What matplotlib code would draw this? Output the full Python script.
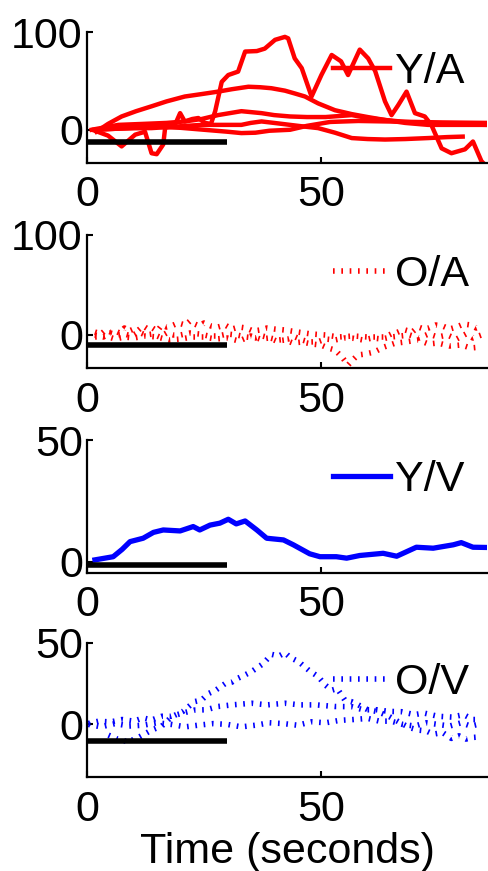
import matplotlib
matplotlib.use("Agg")
import matplotlib.pyplot as plt

plt.rcParams['font.family'] = ['Liberation Sans', 'DejaVu Sans']

# ---------------- data ----------------
x_ticks = [0, 50]
x_lim = (0, 85.5)
bar_t = [0, 30]

# Panel 1: Y/A (solid red traces)
ya_a_t = [1.7, 4.5, 7.4, 10.3, 12.4, 13.8, 14.9, 16.3, 16.7, 18.8, 19.9, 20.9, 22.5, 23.8, 25.2, 26.5,
          27.4, 28.8, 30.2, 32.3, 33.8, 36.3, 38.0, 40.2, 42.3, 43.0, 44.4, 45.9, 48.0, 50.1, 52.3,
          54.3, 55.8, 58.3, 60.1, 61.6, 63.7, 65.1, 66.5, 68.3, 70.1, 72.2, 73.6, 75.8, 77.9, 80.8,
          82.5, 84.3, 85.5]
ya_a_v = [-1, -6, -17, -5, -2, -24, -25, -15, 2, 5, 17, 8.5, 11, 12, 7, 6,
          19, 49, 56, 59.5, 80, 80.5, 83, 92, 95, 93.5, 73, 63, 34, 56, 76.5,
          70, 56, 82, 73, 60, 29, 15, 25, 39, 17, 13.6, 5, -19, -24, -20,
          -12, -32, -38]
ya_b_t = [2, 4.5, 7.4, 10.5, 13.8, 17, 20.9, 24.5, 28, 31, 34.5, 37, 39.4, 42.3, 44.5, 46.6, 49.4,
          53, 56.6, 60, 63.7, 68, 72, 76, 80, 85.5]
ya_b_v = [-2, 6, 13.6, 19, 24, 29, 34, 36.5, 39, 41.5, 44, 43.5, 42.5, 40, 37, 34, 27,
          20, 16, 13, 10, 8, 7, 6, 5.5, 5]
ya_c_t = [1, 6.7, 12, 17, 20.9, 24.5, 28, 30.5, 33, 37.3, 40, 43.4, 47, 51, 56.6, 60, 63.7, 68,
          72.9, 78, 85.5]
ya_c_v = [0, 5, 6, 7, 8.5, 11, 15, 17, 19, 17, 15, 13.6, 13, 13, 15, 12, 10, 7,
          5, 5, 5]
ya_d_t = [1.5, 6, 10, 13.8, 18, 24.5, 29, 33, 35, 37.3, 40, 43.4, 46, 49.4, 53, 56.6, 60, 63.7,
          68, 72.9, 77, 80.3]
ya_d_v = [0, 1, 1.5, 1.7, 3, 5, 5, 5, 7, 8.5, 7, 5, 3.5, 1.7, -3, -8.5, -9.5, -10,
          -9.5, -8.5, -7.5, -7]
ya_e_t = [2, 6, 10, 15, 20, 25, 30, 33, 36, 39, 43.4, 47, 52, 58, 64, 70, 76, 85.5]
ya_e_v = [0, 1, 2, 3, 2, 0, -2, -3.4, -3, -1, 0, 4, 8, 9, 8.5, 8, 7.5, 7]

# Panel 2: O/A (dotted red traces)
oa_1_t = [1.7, 3, 4, 5, 6, 7, 8, 9, 10, 11, 12, 13, 14, 15, 16, 17, 18, 19.5, 21, 22, 23, 24, 25,
          26.5, 28, 29.5, 31, 32.5, 34, 35.5, 37, 38.5, 40, 42.3, 45, 48, 51, 53.7, 57, 60, 63.7,
          65, 66, 67, 68, 69.5, 70.8, 72, 73, 74.5, 76, 77.5, 79, 80.5, 82, 83.2, 84.3]
oa_1_v = [3, 1, 5, 3, 4, 2, 7, 4, 6, 5, 9, 6, 7, 4, 10, 8, 9, 12, 10, 14, 11, 9, 12,
          9, 8, 10, 6, 8, 7, 4, 5, 7, 6, 5, 3, 1, 0, -2, -1, -2, -2,
          1, 2, 4, 5, 3, 8, 6, 7, 10, 9, 6, 8, 11, 10, 7, 9]
oa_2_t = [1.7, 3.5, 5, 6.5, 8, 9.5, 11, 12.5, 14, 15.5, 17, 18.5, 20, 22, 24, 26, 28, 30, 32, 34,
          36, 37.5, 39.4, 41, 43, 44.5, 46, 47.5, 49.4, 51, 53, 55, 57, 59, 61, 63, 65, 67, 69, 71,
          73, 75, 77, 79, 81, 82.5, 84.3]
oa_2_v = [0, -2, 2, 0, 1, -1, 3, 0, 1, -2, 2, 0, 0, 2, 1, -1, -1, 1, 0, -2,
          -3, -1, -3.3, -5, -4, -2, -5, -7, -6.7, -4, -5, -3, -3.3, -5, -3, -4, -2, -1, 0, -3,
          1, -2, 0, -4, 1, -3, 0]
oa_3_t = [1.7, 4, 6, 8, 10, 12.5, 15, 17.5, 20, 22.5, 25, 27.5, 30, 32.5, 35, 37, 39, 40.5, 42.3,
          44, 46, 48, 50, 51.5, 53, 54.5, 55.8, 57, 57.9, 59.5, 61.4, 63.5, 65.8, 68, 70.8, 73,
          75, 77.5, 80, 82, 84.3]
oa_3_v = [-2, -1, -4, -2, -3, -1, -2, -5, -4, -2, -2, -4, -3, -6, -1, -4, -3, -6, -5,
          -8, -7, -9, -10, -13, -15, -22, -30, -24, -20, -19, -17, -12, -8.3, -7, -5, -9,
          -8, -11, -10, -13, -12]

# Panel 3: Y/V (solid blue trace)
yv_t = [1.7, 5.6, 7.5, 9.2, 12.0, 14.2, 16.3, 19.9, 22.7, 24.1, 26.3, 28.4, 30.2, 31.9, 33.8,
        36.3, 38.4, 42.0, 44.1, 47.6, 49.8, 53.3, 55.5, 58.3, 63.3, 66.2, 70.4, 74.0, 78.3, 80.0,
        82.5, 85.5]
yv_v = [0.7, 2.0, 5.0, 8.2, 9.6, 12.0, 13.0, 12.6, 14.4, 13.0, 15.0, 15.8, 17.4, 15.5, 16.7,
        13.0, 9.6, 8.9, 6.9, 3.2, 2.0, 2.0, 1.4, 2.5, 3.4, 2.2, 5.9, 5.5, 6.9, 7.8,
        5.9, 5.8]

# Panel 4: O/V (dotted blue traces)
ov_p_t = [4.6, 6.5, 8.8, 11, 13.8, 16, 18.1, 20.5, 23.0, 24.5, 26, 27.5, 29.5, 31, 32, 33.5, 35.2,
          37.5, 39.5, 41, 42.3, 43.5, 45.2, 47.5, 49.4, 51, 52.3, 53.5, 55.1, 56.5, 58.0, 60, 62.2,
          64.5, 67.2, 69, 70.8, 72.5, 74, 76, 77.9, 79.5, 81, 82.5, 84.3]
ov_p_v = [-6.6, -9, -10.7, -8, -3.5, -1, 4.7, 8, 14, 15, 19, 21, 25, 26, 28, 30, 32.5,
          37, 43, 42, 44, 41, 38.6, 33, 29.4, 24, 21, 22, 15, 14, 12, 9, 7.8,
          5, 0.6, -2, -3.5, -4, -6, -5, -8.6, -7, -9, -8, -7.6]
ov_q_t = [0.3, 2.5, 5, 7.5, 10, 12, 13.8, 16, 18, 20.5, 23.0, 25.5, 28, 31, 35.2, 38.5, 42.3, 45.5,
          49, 53, 56.6, 59, 62, 64.5, 67.2, 70, 72, 75, 78, 80.5, 82.5, 84.3]
ov_q_v = [0.6, 2, 1.5, 3, 2, 4, 2.7, 5, 5, 7, 8.8, 9, 11, 12, 13, 12, 13, 12,
          12, 11, 10.9, 9, 9, 8, 7.8, 6, 7, 5, 4.5, 6, 3, 3]
ov_r_t = [0.3, 3, 6, 9, 12, 15, 18, 21, 24, 27, 30, 33, 36, 39, 42, 45, 48, 51, 54, 57, 60, 62.5,
          65, 67.5, 70, 72.5, 75, 77.5, 80, 82, 84.3]
ov_r_v = [0, -1.5, 0.5, -1, -0.5, 1, 0, -1.5, -0.4, 0.5, 0, -1.5, -0.5, 1, 0.5, -0.5, 1.6, 1, 2.5,
          3, 3.7, 2, 2, 0, -1, 1, 0, -1, 1, -1, 0.5]

panel_labels = ['Y/A', 'O/A', 'Y/V', 'O/V']
y_ticks = [[0, 100], [0, 100], [0, 50], [0, 50]]
y_lims = [(-34, 100), (-33, 100), (-4.7, 50), (-32.3, 50)]
bar_levels = [-12.5, -10, -1.4, -10]
xlabel = 'Time (seconds)'

# ---------------- figure ----------------
W, H = 488, 871
fig = plt.figure(figsize=(W / 100, H / 100), dpi=100)

boxes_px = [(32, 163), (235, 368), (440, 573), (643, 777)]
left_px, right_px = 87, 487
FS = 31
LW = 3.2

axes = []
for (top, bot) in boxes_px:
    ax = fig.add_axes([left_px / W, 1 - bot / H, (right_px - left_px) / W, (bot - top) / H])
    axes.append(ax)

dot = (0, (0.3, 1.2))

series = [
    [(ya_a_t, ya_a_v), (ya_b_t, ya_b_v), (ya_c_t, ya_c_v), (ya_d_t, ya_d_v), (ya_e_t, ya_e_v)],
    [(oa_1_t, oa_1_v), (oa_2_t, oa_2_v), (oa_3_t, oa_3_v)],
    [(yv_t, yv_v)],
    [(ov_p_t, ov_p_v), (ov_q_t, ov_q_v), (ov_r_t, ov_r_v)],
]
colors = ['#ff0000', '#ff0000', '#0000ff', '#0000ff']
styles = ['-', dot, '-', dot]
lws = [LW, 4.0, 3.8, 4.0]

for i, ax in enumerate(axes):
    first = None
    for (t, v) in series[i]:
        ln, = ax.plot(t, v, color=colors[i], lw=lws[i], linestyle=styles[i],
                      dash_capstyle='butt', solid_joinstyle='round', clip_on=True)
        if first is None:
            first = ln
    ax.plot(bar_t, [bar_levels[i]] * 2, color='black', lw=4, solid_capstyle='butt', zorder=5)
    ax.set_xlim(*x_lim)
    ax.set_ylim(*y_lims[i])
    ax.set_xticks(x_ticks)
    ax.set_yticks(y_ticks[i])
    ax.set_xticklabels([str(x) for x in x_ticks])
    ax.set_yticklabels([str(y) for y in y_ticks[i]])
    for s in ['top', 'right']:
        ax.spines[s].set_visible(False)
    for s in ['left', 'bottom']:
        ax.spines[s].set_linewidth(1.6)
    ax.tick_params(axis='both', direction='in', length=4, width=1.5, labelsize=FS)
    ax.tick_params(axis='x', pad=9)
    ax.tick_params(axis='y', pad=3)
    hpx = boxes_px[i][1] - boxes_px[i][0]
    ax.legend([first], [panel_labels[i]], loc='center left',
              bbox_to_anchor=((333 - left_px) / (right_px - left_px), 1 - 40 / hpx),
              frameon=False, fontsize=FS, borderpad=0, borderaxespad=0,
              handlelength=1.33, handletextpad=0.12)

axes[-1].set_xlabel(xlabel, fontsize=FS, labelpad=2)

fig.savefig('out.png', dpi=100)
